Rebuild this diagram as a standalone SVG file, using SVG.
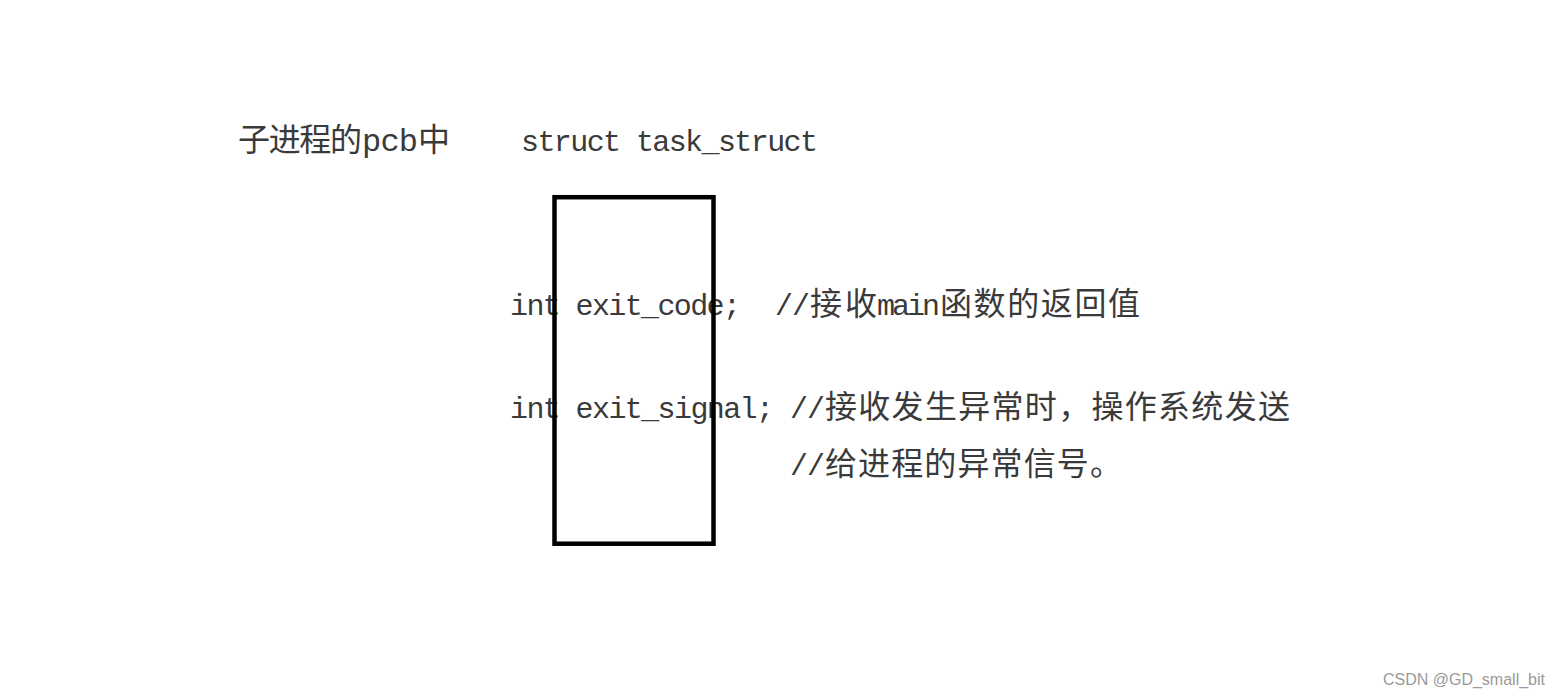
<svg xmlns="http://www.w3.org/2000/svg" width="1560" height="697" viewBox="0 0 1560 697">
<style>
.mono{font-family:"Liberation Mono","Noto Sans CJK SC",monospace;font-size:30px;fill:#3a3a3a}
.cjk{font-family:"Noto Sans CJK SC",sans-serif;font-size:32px;fill:#3a3a3a}
.box{fill:none;stroke:#000;stroke-width:4.5}
.wm{font-family:"Liberation Sans",Arial,sans-serif;font-size:16px;fill:#9a9a9a}
</style>
<rect x="0" y="0" width="1560" height="697" fill="#ffffff"/>
<g id="title">
<text y="151"><tspan class="cjk" x="238" textLength="124" lengthAdjust="spacing">子进程的</tspan><tspan class="mono" x="362" textLength="56" lengthAdjust="spacing" style="font-size:32px">pcb</tspan><tspan class="cjk" x="418">中</tspan></text>
<text class="mono" x="521" y="151" textLength="297" lengthAdjust="spacing">struct task_struct</text>
</g>
<g id="field-exit-code">
<text y="315"><tspan class="mono" x="510" textLength="231" lengthAdjust="spacing">int exit_code;</tspan><tspan class="mono" x="775" textLength="35" lengthAdjust="spacing">//</tspan><tspan class="cjk" x="810" textLength="67" lengthAdjust="spacing">接收</tspan><tspan class="mono" x="877" textLength="63" lengthAdjust="spacing">main</tspan><tspan class="cjk" x="940" textLength="200" lengthAdjust="spacing">函数的返回值</tspan></text>
</g>
<g id="field-exit-signal">
<text y="418"><tspan class="mono" x="510" textLength="264" lengthAdjust="spacing">int exit_signal;</tspan><tspan class="mono" x="790" textLength="35" lengthAdjust="spacing">//</tspan><tspan class="cjk" x="825" textLength="465" lengthAdjust="spacing">接收发生异常时，操作系统发送</tspan></text>
<text y="475"><tspan class="mono" x="790" textLength="35" lengthAdjust="spacing">//</tspan><tspan class="cjk" x="825" textLength="297" lengthAdjust="spacing">给进程的异常信号。</tspan></text>
</g>
<g id="task-struct-box">
<rect class="box" x="554.5" y="197.2" width="159" height="346.5"/>
</g>
<g id="connectors"></g>
<g id="watermark">
<text class="wm" x="1545" y="685" text-anchor="end">CSDN @GD_small_bit</text>
</g>
</svg>
